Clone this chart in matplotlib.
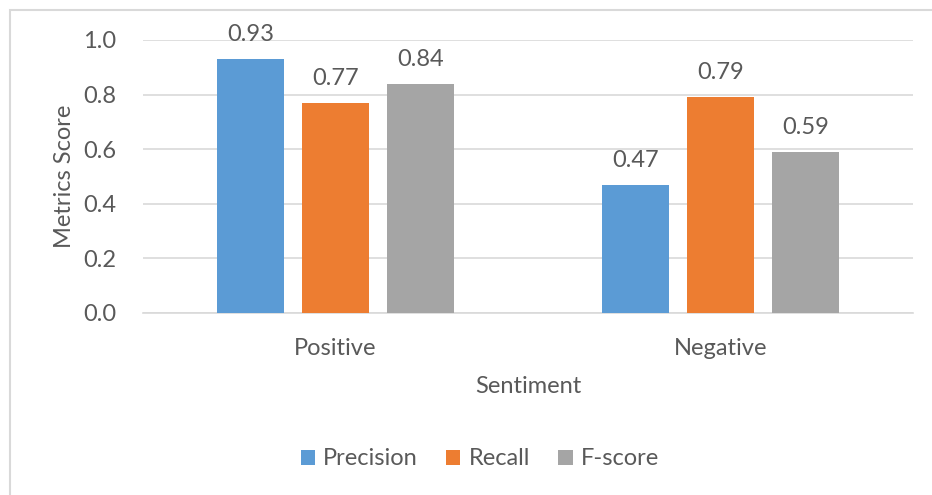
import matplotlib.pyplot as plt
import numpy as np
from matplotlib.patches import Rectangle

plt.rcParams['font.family'] = ['Lato', 'DejaVu Sans']

categories = ['Positive', 'Negative']
precision = [0.93, 0.47]
recall = [0.77, 0.79]
fscore = [0.84, 0.59]

series = [('Precision', precision, '#5B9BD5'),
          ('Recall', recall, '#ED7D31'),
          ('F-score', fscore, '#A5A5A5')]

text_color = '#595959'
grid_color = '#D9D9D9'
fs = 17

fig = plt.figure(figsize=(9.32, 4.95), dpi=100)
ax = fig.add_axes([0.1534, 0.3677, 0.8266, 0.5515])

x = np.arange(len(categories))
width = 0.174
step = 0.221

for i, (name, vals, color) in enumerate(series):
    pos = x + (i - 1) * step
    bars = ax.bar(pos, vals, width, color=color, label=name, zorder=3)
    for b, v in zip(bars, vals):
        ax.annotate(f'{v:.2f}', (b.get_x() + b.get_width() / 2, v),
                    xytext=(0, 10), textcoords='offset points',
                    ha='center', va='bottom', fontsize=fs, color=text_color)

ax.set_xlim(-0.5, 1.5)
ax.set_ylim(0, 1.0)
ax.set_yticks(np.arange(0, 1.01, 0.2))
ax.set_yticklabels([f'{t:.1f}' for t in np.arange(0, 1.01, 0.2)])
ax.set_xticks(x)
ax.set_xticklabels(categories)
ax.tick_params(axis='both', length=0, labelsize=fs, colors=text_color)
ax.tick_params(axis='y', pad=19)
ax.tick_params(axis='x', pad=18)

ax.grid(axis='y', color=grid_color, linewidth=1.2, zorder=0)
for s in ['top', 'right', 'left']:
    ax.spines[s].set_visible(False)
ax.spines['bottom'].set_color(grid_color)
ax.spines['bottom'].set_linewidth(1.2)

ax.set_xlabel('Sentiment', fontsize=fs, color=text_color, labelpad=12)
ax.set_ylabel('Metrics Score', fontsize=fs, color=text_color, labelpad=6)

fig.legend(loc='center', bbox_to_anchor=(0.515, 0.073), ncol=3, frameon=False,
           fontsize=fs, labelcolor=text_color, handlelength=0.6,
           handleheight=0.6, handletextpad=0.35, columnspacing=1.2)

# light chart-area frame
fig.patches.append(Rectangle((10 / 932, -0.1), 1.2, 1 - 10 / 495 + 0.1,
                             transform=fig.transFigure, fill=False,
                             edgecolor=grid_color, linewidth=1.5))

fig.savefig('out.png', dpi=100, facecolor='white')
